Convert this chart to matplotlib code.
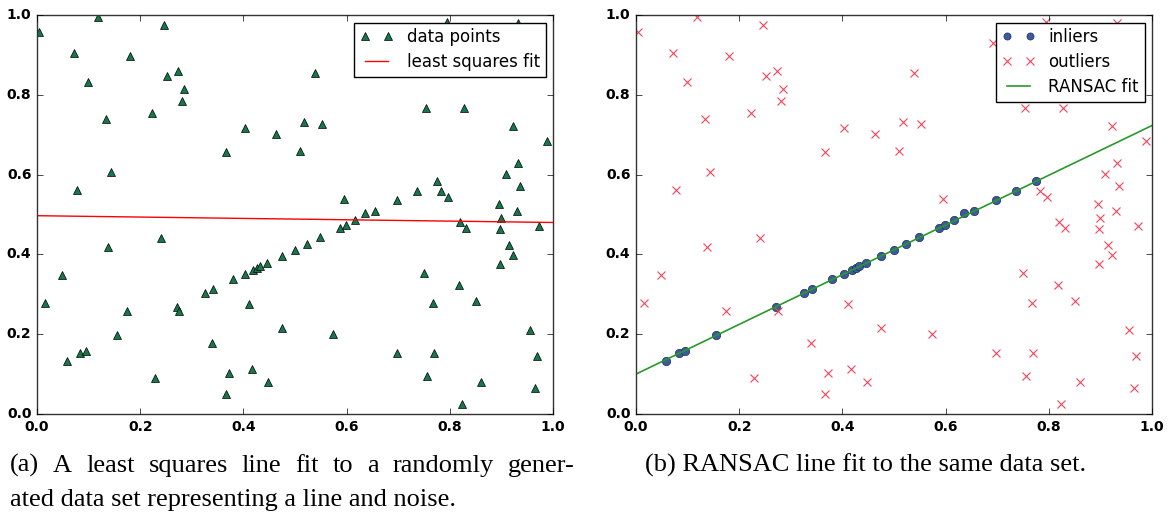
import matplotlib
matplotlib.use("Agg")
import matplotlib.pyplot as plt
import numpy as np

plt.style.use("classic")
plt.rcParams["font.size"] = 10

# inliers (points close to the underlying line)
inlier_x = [0.058, 0.084, 0.095, 0.156, 0.271, 0.326, 0.342, 0.380, 0.403, 0.419,
            0.426, 0.433, 0.446, 0.475, 0.500, 0.523, 0.549, 0.587, 0.599, 0.616,
            0.636, 0.655, 0.697, 0.736, 0.775]
inlier_y = [0.134, 0.152, 0.159, 0.198, 0.269, 0.304, 0.314, 0.338, 0.352, 0.362,
            0.366, 0.370, 0.379, 0.397, 0.412, 0.427, 0.443, 0.467, 0.474, 0.485,
            0.503, 0.509, 0.536, 0.560, 0.584]

# outliers (noise)
outlier_x = [0.003, 0.071, 0.119, 0.099, 0.180, 0.134, 0.078, 0.144, 0.222, 0.247,
             0.252, 0.273, 0.284, 0.281, 0.366, 0.403, 0.464, 0.538, 0.518, 0.552,
             0.510, 0.594, 0.754, 0.827, 0.923, 0.988, 0.933, 0.908, 0.936, 0.782,
             0.797, 0.896, 0.930, 0.794, 0.932, 0.692, 0.819, 0.831, 0.899, 0.897,
             0.972, 0.914, 0.923, 0.897, 0.750, 0.817, 0.851, 0.768, 0.475, 0.574,
             0.956, 0.697, 0.770, 0.969, 0.755, 0.860, 0.965, 0.824, 0.015, 0.049,
             0.137, 0.240, 0.174, 0.276, 0.229, 0.340, 0.372, 0.367, 0.411, 0.417,
             0.448]
outlier_y = [0.957, 0.906, 0.996, 0.832, 0.897, 0.739, 0.561, 0.606, 0.754, 0.974,
             0.846, 0.860, 0.814, 0.784, 0.657, 0.718, 0.703, 0.854, 0.731, 0.727,
             0.658, 0.538, 0.766, 0.767, 0.722, 0.685, 0.629, 0.601, 0.571, 0.560,
             0.544, 0.526, 0.509, 0.983, 0.981, 0.929, 0.482, 0.465, 0.492, 0.464,
             0.472, 0.424, 0.398, 0.377, 0.353, 0.323, 0.284, 0.277, 0.215, 0.201,
             0.211, 0.152, 0.152, 0.145, 0.094, 0.081, 0.065, 0.025, 0.277, 0.348,
             0.418, 0.441, 0.258, 0.258, 0.091, 0.178, 0.103, 0.049, 0.276, 0.114,
             0.080]

# fitted lines: intercept, slope
ls_fit = (0.497, -0.017)
ransac_fit = (0.100, 0.623)

caption_a = ["(a) A least squares line fit to a randomly gener-",
             "ated data set representing a line and noise."]
caption_b = "(b) RANSAC line fit to the same data set."

all_x = np.array(inlier_x + outlier_x)
all_y = np.array(inlier_y + outlier_y)
line_x = np.array([0.0, 1.0])

fig = plt.figure(figsize=(11.71, 5.14), dpi=100, facecolor="white")
W, H = 1171.0, 514.0
ax1 = fig.add_axes([37 / W, 100 / H, 516 / W, 399 / H])
ax2 = fig.add_axes([636 / W, 100 / H, 516 / W, 399 / H])

# (a) least squares
ax1.plot(all_x, all_y, "^", color="#16784a", markeredgecolor="black",
         markeredgewidth=0.5, markersize=6, label="data points")
ax1.plot(line_x, ls_fit[0] + ls_fit[1] * line_x, "-", color="red",
         linewidth=1.0, label="least squares fit")

# (b) RANSAC
ax2.plot(inlier_x, inlier_y, "o", color="#3b5ba0", markeredgecolor="#1c2c55",
         markeredgewidth=0.5, markersize=6, label="inliers")
ax2.plot(outlier_x, outlier_y, "x", color="#f5445a", markeredgewidth=0.8,
         markersize=6, label="outliers")
ax2.plot(line_x, ransac_fit[0] + ransac_fit[1] * line_x, "-", color="#2a982a",
         linewidth=1.2, label="RANSAC fit")

for ax in (ax1, ax2):
    ax.set_xlim(0, 1)
    ax.set_ylim(0, 1)
    ax.set_xticks([0.0, 0.2, 0.4, 0.6, 0.8, 1.0])
    ax.set_yticks([0.0, 0.2, 0.4, 0.6, 0.8, 1.0])
    ax.set_facecolor("white")
    for s in ax.spines.values():
        s.set_color("#333333")
    ax.tick_params(labelsize=10)
    for lab in ax.get_xticklabels() + ax.get_yticklabels():
        lab.set_fontweight("bold")
    ax.legend(loc="upper right", fontsize=12, numpoints=2, fancybox=False,
              borderpad=0.35, labelspacing=0.42, handletextpad=0.8,
              markerscale=0.85, borderaxespad=0.45,
              frameon=True, edgecolor="black")

cap = dict(family="Liberation Serif", fontsize=19, va="baseline", ha="left")

# first caption line is justified (stretched word spacing) like the LaTeX source
words = caption_a[0].split()
word_texts = [fig.text(0, 1 - 472 / H, w, **cap) for w in words]
renderer = fig.canvas.get_renderer()
widths = [t.get_window_extent(renderer).width for t in word_texts]
x_left, x_right = 10.0, 575.0
gap = (x_right - x_left - sum(widths)) / (len(words) - 1)
x = x_left
for t, w in zip(word_texts, widths):
    t.set_x(x / W)
    x += w + gap

fig.text(10 / W, 1 - 506 / H, caption_a[1], **cap)
fig.text(645 / W, 1 - 472 / H, caption_b, **cap)

fig.savefig("out.png", dpi=100, facecolor="white")
